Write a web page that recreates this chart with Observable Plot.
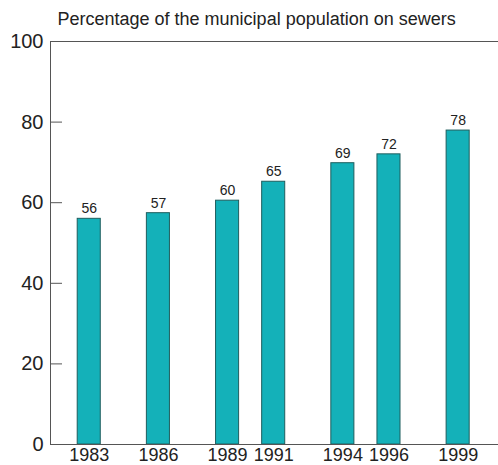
<!DOCTYPE html>
<html><head><meta charset="utf-8">
<script src="https://cdn.jsdelivr.net/npm/d3@7"></script>
<script src="https://cdn.jsdelivr.net/npm/@observablehq/plot@0.6"></script>
<style>body{margin:0;background:#fff}</style>
</head><body><div id="chart"></div>
<script>
const years = [1983, 1986, 1989, 1991, 1994, 1996, 1999];
const values = [56, 57.4, 60.5, 65.2, 69.8, 72, 77.9];
const labels = ["56", "57", "60", "65", "69", "72", "78"];
const yTicks = [0, 20, 40, 60, 80, 100];
const title = "Percentage of the municipal population on sewers";

const data = years.map((year, i) => ({year, value: values[i], label: labels[i]}));
const xDomain = [1981.32, 2000.75];
const axisColor = "#555";
const W = 498, ML = 50, MR = 0, TICK = 12;

const plot = Plot.plot({
  width: W, height: 465,
  marginTop: 41, marginBottom: 21, marginLeft: ML, marginRight: MR,
  style: {fontFamily: "'Liberation Sans', Arial, sans-serif", background: "#fff", color: "#222"},
  x: {domain: xDomain, axis: null},
  y: {domain: [0, 100], axis: null},
  marks: [
    Plot.rectY(data, {x1: d => d.year - 0.5, x2: d => d.year + 0.5, y: "value", fill: "#14b1b9", stroke: "#1f5e5e", strokeWidth: 1}),
    Plot.ruleY([0, 100], {stroke: axisColor}),
    Plot.ruleX([xDomain[0]], {stroke: axisColor}),
    Plot.ruleY(yTicks, {stroke: axisColor, insetRight: W - ML - MR - TICK}),
    Plot.axisY({ticks: yTicks, tickSize: 0, tickPadding: 7, fontSize: 20, tickFormat: d => String(d), fill: "#222", label: null}),
    Plot.axisX({ticks: years, tickSize: 0, tickPadding: 4, fontSize: 18, tickFormat: d => String(d), fill: "#222", label: null}),
    Plot.text(data, {x: "year", y: "value", text: "label", dy: -10, fontSize: 14, fill: "#222"}),
    Plot.text([title], {frameAnchor: "top-left", text: d => d, dx: 7, dy: -29, lineAnchor: "top", textAnchor: "start", fontSize: 18, fill: "#222"})
  ]
});
document.getElementById("chart").append(plot);
</script>
</body></html>
